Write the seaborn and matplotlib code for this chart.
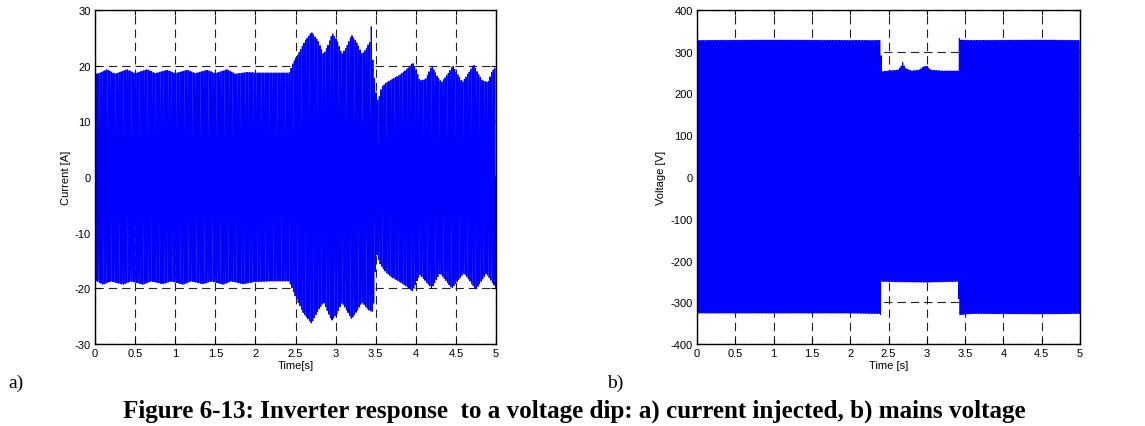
import numpy as np
import pandas as pd
import matplotlib
matplotlib.use("Agg")
import matplotlib.pyplot as plt
import seaborn as sns

# ---- envelope of the injected current (A), peak values per time instant ----
cur_up_t = [0.00, 0.05, 0.15, 0.25, 0.40, 0.50, 0.65, 0.75, 0.90, 1.00, 1.15, 1.25,
            1.40, 1.50, 1.65, 1.75, 1.90, 2.00, 2.20, 2.40, 2.42, 2.47, 2.55, 2.62,
            2.70, 2.78, 2.85, 2.90, 2.96, 3.02, 3.08, 3.14, 3.20, 3.27, 3.33, 3.38,
            3.42, 3.44, 3.445, 3.45, 3.47, 3.50, 3.53, 3.57, 3.62, 3.70, 3.80, 3.90,
            3.96, 4.00, 4.05, 4.12, 4.20, 4.27, 4.32, 4.40, 4.46, 4.52, 4.58, 4.65,
            4.72, 4.78, 4.83, 4.90, 4.95, 5.00]
cur_up_v = [18.5, 18.6, 19.3, 18.5, 19.3, 18.6, 19.3, 18.6, 19.2, 18.6, 19.2, 18.6,
            19.2, 18.6, 19.3, 18.5, 18.8, 18.7, 18.7, 18.7, 18.6, 20.5, 22.5, 24.5,
            26.0, 24.5, 22.0, 23.5, 25.8, 24.5, 22.0, 23.5, 25.5, 24.0, 22.0, 23.0,
            24.2, 24.2, 27.0, 24.0, 20.0, 15.5, 13.5, 16.0, 16.8, 17.5, 18.3, 19.5,
            20.5, 19.5, 17.3, 17.5, 20.0, 18.0, 17.0, 18.5, 20.0, 18.5, 17.0, 18.5,
            20.2, 18.5, 17.3, 17.0, 19.0, 19.8]

cur_lo_t = [0.00, 0.10, 0.20, 0.35, 0.45, 0.60, 0.70, 0.85, 0.95, 1.10, 1.20, 1.35,
            1.45, 1.60, 1.70, 1.85, 2.00, 2.20, 2.42, 2.50, 2.60, 2.70, 2.78, 2.85,
            2.95, 3.02, 3.08, 3.20, 3.27, 3.33, 3.42, 3.47, 3.49, 3.51, 3.55, 3.62,
            3.70, 3.80, 3.90, 3.96, 4.05, 4.20, 4.30, 4.45, 4.60, 4.75, 4.88, 5.00]
cur_lo_v = [-18.5, -19.3, -18.7, -19.3, -18.7, -19.3, -18.7, -19.2, -18.7, -19.3, -18.7, -19.2,
            -18.7, -19.3, -18.7, -19.2, -18.8, -18.7, -18.7, -21.5, -24.5, -26.3, -24.0, -22.5,
            -25.8, -24.5, -22.5, -25.5, -24.0, -22.5, -24.0, -24.2, -18.0, -13.8, -15.5, -17.0,
            -18.0, -18.8, -19.8, -20.5, -17.5, -20.0, -17.2, -20.0, -17.2, -20.2, -17.3, -20.0]

# ---- envelope of the mains voltage (V) ----
volt_up_t = [0.00, 1.00, 2.00, 2.40, 2.41, 2.50, 2.62, 2.66, 2.68, 2.72, 2.80, 2.90,
             2.96, 3.00, 3.05, 3.20, 3.41, 3.42, 3.44, 3.60, 4.50, 5.00]
volt_up_v = [327, 328, 327, 327, 252, 254, 256, 262, 276, 260, 254, 256,
             264, 266, 256, 254, 254, 333, 328, 327, 328, 327]
volt_lo_t = [0.00, 1.00, 2.00, 2.38, 2.40, 2.41, 2.60, 3.00, 3.40, 3.41, 3.42, 3.60,
             4.50, 5.00]
volt_lo_v = [-326, -326, -326, -327, -330, -250, -251, -252, -250, -250, -330, -327,
             -328, -327]

GRID_FREQ = 50.0       # Hz
SAMPLE_RATE = 10000.0  # samples per second of the recorded traces
T_END = 5.0


def waveform(up_t, up_v, lo_t, lo_v):
    t = np.arange(0.0, T_END + 1e-9, 1.0 / SAMPLE_RATE)
    s = np.sin(2 * np.pi * GRID_FREQ * t)
    up = np.interp(t, up_t, up_v)
    lo = np.interp(t, lo_t, lo_v)
    y = np.where(s >= 0, up * s, -lo * s)
    return pd.DataFrame({"t": t, "y": y})


current = waveform(cur_up_t, cur_up_v, cur_lo_t, cur_lo_v)
voltage = waveform(volt_up_t, volt_up_v, volt_lo_t, volt_lo_v)

sns.set_theme(style="white")
plt.rcParams["font.family"] = ["Liberation Sans", "DejaVu Sans"]
plt.rcParams["lines.scale_dashes"] = False
plt.rcParams["text.color"] = "black"
plt.rcParams["axes.labelcolor"] = "black"
plt.rcParams["xtick.color"] = "black"
plt.rcParams["ytick.color"] = "black"

fig = plt.figure(figsize=(11.45, 4.27), dpi=100)
ax1 = fig.add_axes([95 / 1145, 1 - 345 / 427, 401 / 1145, 334 / 427])
ax2 = fig.add_axes([697 / 1145, 1 - 345 / 427, 383 / 1145, 334 / 427])


def style_axes(ax, yticks, ylabel, xlabel):
    ax.set_xlim(0, 5)
    ax.set_xticks(np.arange(0, 5.01, 0.5))
    ax.set_xticklabels(["0", "0.5", "1", "1.5", "2", "2.5", "3", "3.5", "4", "4.5", "5"])
    ax.set_ylim(yticks[0], yticks[-1])
    ax.set_yticks(yticks)
    ax.set_yticklabels([str(v) for v in yticks])
    ax.tick_params(direction="in", length=3.5, width=0.8, color="black", labelcolor="black",
                   labelsize=8, pad=3, top=True, right=True, bottom=True, left=True)
    ax.set_ylabel(ylabel, fontsize=8, labelpad=3, color="black")
    ax.set_xlabel(xlabel, fontsize=8, labelpad=1, color="black")
    ax.grid(True, color="#222222", linewidth=0.8, linestyle=(0, (6, 3.6)))
    ax.set_axisbelow(True)
    for sp in ax.spines.values():
        sp.set_visible(True)
        sp.set_color("black")
        sp.set_linewidth(1.0)
        sp.set_zorder(5)
    ax.set_facecolor("white")


sns.lineplot(data=current, x="t", y="y", ax=ax1, color="#0000ff", linewidth=0.75,
             estimator=None, sort=False)
style_axes(ax1, [-30, -20, -10, 0, 10, 20, 30], "Current [A]", "Time[s]")

sns.lineplot(data=voltage, x="t", y="y", ax=ax2, color="#0000ff", linewidth=0.75,
             estimator=None, sort=False)
style_axes(ax2, [-400, -300, -200, -100, 0, 100, 200, 300, 400], "Voltage [V]", "Time [s]")

serif = ["Liberation Serif", "DejaVu Serif"]
fig.text(8 / 1145, 1 - 383 / 427, "a)", fontsize=14, family=serif, va="center", ha="left",
         color="black")
fig.text(607 / 1145, 1 - 383 / 427, "b)", fontsize=14, family=serif, va="center", ha="left",
         color="black")
fig.text(574 / 1145, 1 - 411 / 427,
         "Figure 6-13: Inverter response  to a voltage dip: a) current injected, b) mains voltage",
         fontsize=18.1, fontweight="bold", family=serif, va="center", ha="center", color="black")

fig.savefig("out.png", dpi=100, facecolor="white")
